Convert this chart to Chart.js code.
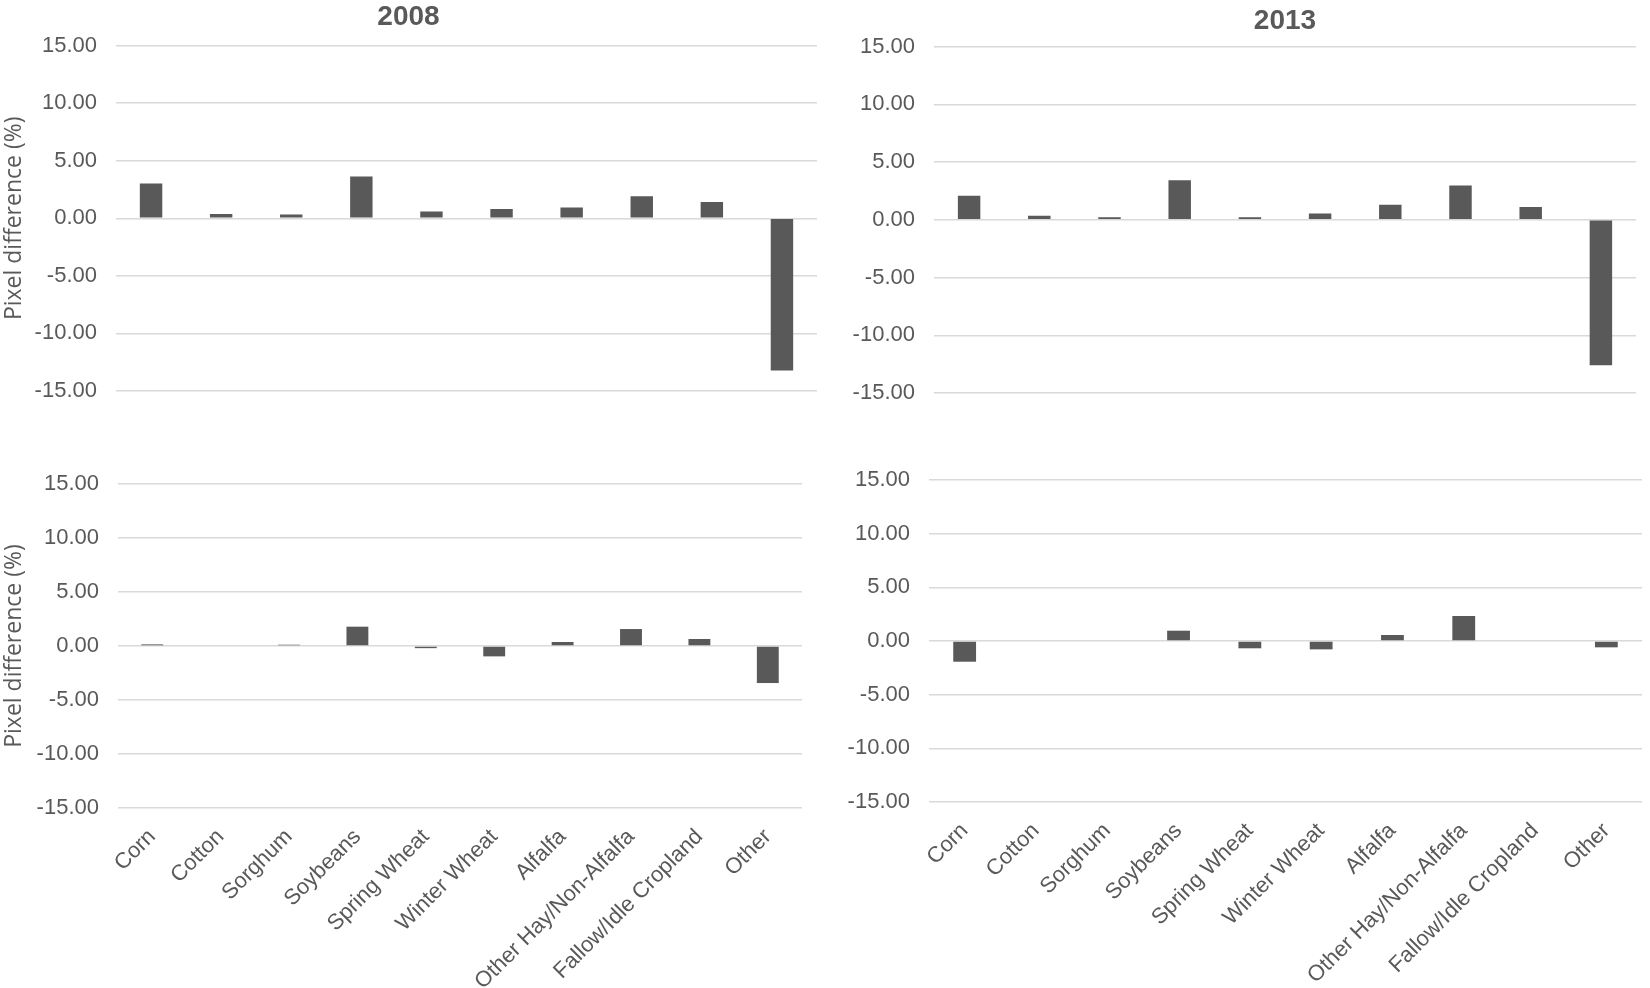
<!DOCTYPE html>
<html>
<head>
<meta charset="utf-8">
<script src="https://cdn.jsdelivr.net/npm/chart.js@4"></script>
<style>
  html, body { margin: 0; padding: 0; background: #fff; overflow: hidden; }
  .box { position: absolute; }
</style>
</head>
<body>
<div class="box" style="left:0;top:0;width:818px;height:430px"><canvas id="topLeft"></canvas></div>
<div class="box" style="left:825px;top:0;width:825px;height:430px"><canvas id="topRight"></canvas></div>
<div class="box" style="left:0;top:430px;width:840px;height:558px"><canvas id="bottomLeft"></canvas></div>
<div class="box" style="left:825px;top:430px;width:825px;height:558px"><canvas id="bottomRight"></canvas></div>
<script>
const categories = ['Corn', 'Cotton', 'Sorghum', 'Soybeans', 'Spring Wheat', 'Winter Wheat',
  'Alfalfa', 'Other Hay/Non-Alfalfa', 'Fallow/Idle Cropland', 'Other'];

// upper row
const top2008 = [3.02, 0.38, 0.32, 3.63, 0.58, 0.81, 0.93, 1.92, 1.42, -13.23];
const top2013 = [2.09, 0.35, 0.23, 3.43, 0.23, 0.55, 1.31, 2.97, 1.10, -12.59];
// lower row
const bottom2008 = [0.15, 0, 0.12, 1.79, -0.2, -0.96, 0.37, 1.57, 0.65, -3.43];
const bottom2013 = [-1.93, 0, 0, 0.96, -0.68, -0.78, 0.56, 2.33, 0, -0.59];

const yTickValues = [-15, -10, -5, 0, 5, 10, 15];

const barColor = '#595959';
const textColor = '#595959';
const gridColor = '#d9d9d9';
const tickFont = { family: 'Liberation Sans, Arial, sans-serif', size: 22 };

function makeChart(id, values, o) {
  return new Chart(document.getElementById(id), {
    type: 'bar',
    data: {
      labels: categories,
      datasets: [{
        data: values,
        backgroundColor: barColor,
        barPercentage: 0.32,
        categoryPercentage: 1
      }]
    },
    options: {
      responsive: true,
      maintainAspectRatio: false,
      animation: false,
      layout: { padding: o.padding },
      plugins: {
        legend: { display: false },
        tooltip: { enabled: false },
        title: o.title ? {
          display: true,
          text: o.title,
          fullSize: o.titleFull,
          color: textColor,
          font: { family: 'Liberation Sans, Arial, sans-serif', size: 28, weight: 'bold' },
          padding: o.titlePad
        } : { display: false }
      },
      scales: {
        x: {
          display: o.xLabels,
          grid: { display: false },
          border: { display: false },
          ticks: {
            autoSkip: false,
            minRotation: 45,
            maxRotation: 45,
            padding: 8,
            color: textColor,
            font: tickFont
          },
          afterFit: s => { s.height = o.xHeight; }
        },
        y: {
          min: -15,
          max: 15,
          afterBuildTicks: s => { s.ticks = yTickValues.map(v => ({ value: v })); },
          ticks: {
            padding: 19,
            color: textColor,
            font: tickFont,
            callback: v => Number(v).toFixed(2)
          },
          grid: { color: gridColor, lineWidth: 1.5, drawTicks: false },
          border: { display: false },
          title: o.yTitle ? {
            display: true,
            text: 'Pixel difference (%)',
            color: textColor,
            font: { family: 'Open Sans, sans-serif', size: 23 },
            padding: { top: 1, bottom: 0 }
          } : { display: false },
          afterFit: s => { s.width = o.yWidth; }
        }
      }
    }
  });
}

makeChart('topLeft', top2008, {
  title: '2008', titleFull: true, titlePad: { top: 0, bottom: 12 },
  padding: { left: 0, right: 1, top: 0, bottom: 39 },
  yWidth: 116, yTitle: true, xLabels: false, xHeight: 0
});
makeChart('topRight', top2013, {
  title: '2013', titleFull: false, titlePad: { top: 4, bottom: 9 },
  padding: { left: 0, right: 14, top: 0, bottom: 37 },
  yWidth: 109, yTitle: false, xLabels: false, xHeight: 0
});
makeChart('bottomLeft', bottom2008, {
  title: null,
  padding: { left: 0, right: 38, top: 54, bottom: 0 },
  yWidth: 118, yTitle: true, xLabels: true, xHeight: 180
});
makeChart('bottomRight', bottom2013, {
  title: null,
  padding: { left: 0, right: 8, top: 50, bottom: 0 },
  yWidth: 104, yTitle: false, xLabels: true, xHeight: 186
});
</script>
</body>
</html>
